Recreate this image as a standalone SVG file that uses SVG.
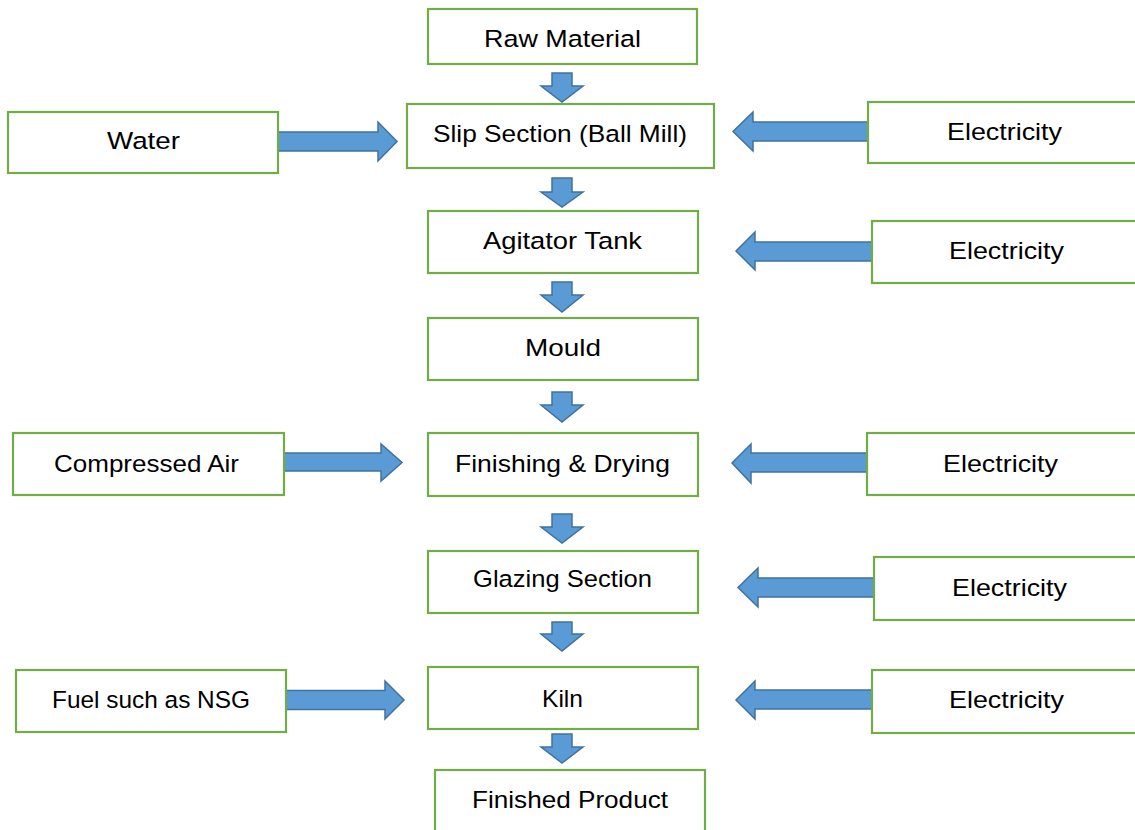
<svg xmlns="http://www.w3.org/2000/svg" width="1135" height="830" viewBox="0 0 1135 830">
<style>
.box{fill:#fff;stroke:#70AD47;stroke-width:2.2}
.lbl{font-family:"Liberation Sans",Arial,sans-serif;font-size:24.5px;fill:#000;text-anchor:middle}
.arr{fill:#5B9BD5;stroke:#41719C;stroke-width:1.5;stroke-linejoin:miter}
</style>
<rect width="1135" height="830" fill="#fff"/>
<g id="connectors">
<path class="arr" d="M552,73 H572 V86 H583 L562,102 L541,86 H552 Z"/>
<path class="arr" d="M552,178 H572 V192 H583 L562,207 L541,192 H552 Z"/>
<path class="arr" d="M552,282 H572 V295 H583 L562,312 L541,295 H552 Z"/>
<path class="arr" d="M552,392 H572 V405 H583 L562,422 L541,405 H552 Z"/>
<path class="arr" d="M552,514 H572 V527 H583 L562,543 L541,527 H552 Z"/>
<path class="arr" d="M552,622 H572 V634 H583 L562,651 L541,634 H552 Z"/>
<path class="arr" d="M552,734 H572 V747 H583 L562,763 L541,747 H552 Z"/>
<path class="arr" d="M278,132 H378 V122 L397,141.5 L378,161 V151 H278 Z"/>
<path class="arr" d="M284,453 H381 V444 L402,462.5 L381,481 V471 H284 Z"/>
<path class="arr" d="M286,690.5 H385 V681 L404,700 L385,719 V709.5 H286 Z"/>
<path class="arr" d="M868,122 H753 V112 L733,131.5 L753,151 V141 H868 Z"/>
<path class="arr" d="M872,242 H755 V232 L736,251 L755,270 V261 H872 Z"/>
<path class="arr" d="M867,453 H751 V444 L732,463 L751,483 V472 H867 Z"/>
<path class="arr" d="M874,578 H758 V568 L738,587.5 L758,607 V597 H874 Z"/>
<path class="arr" d="M872,690 H755 V681 L736,700 L755,719 V709 H872 Z"/>
</g>
<g id="raw"><rect class="box" x="428" y="9" width="269" height="55"/><text class="lbl" x="562.5" y="47" textLength="157" lengthAdjust="spacingAndGlyphs">Raw Material</text></g>
<g id="slip"><rect class="box" x="407" y="104" width="307" height="64"/><text class="lbl" x="560" y="142" textLength="254" lengthAdjust="spacingAndGlyphs">Slip Section (Ball Mill)</text></g>
<g id="water"><rect class="box" x="8" y="112" width="270" height="61"/><text class="lbl" x="143.5" y="149" textLength="73" lengthAdjust="spacingAndGlyphs">Water</text></g>
<g id="elec1"><rect class="box" x="868" y="102" width="275" height="61"/><text class="lbl" x="1004.5" y="140" textLength="115" lengthAdjust="spacingAndGlyphs">Electricity</text></g>
<g id="agitator"><rect class="box" x="428" y="211" width="270" height="62"/><text class="lbl" x="562.5" y="249" textLength="159" lengthAdjust="spacingAndGlyphs">Agitator Tank</text></g>
<g id="elec2"><rect class="box" x="872" y="221" width="271" height="62"/><text class="lbl" x="1006.5" y="259" textLength="115" lengthAdjust="spacingAndGlyphs">Electricity</text></g>
<g id="mould"><rect class="box" x="428" y="318" width="270" height="62"/><text class="lbl" x="563" y="356" textLength="76" lengthAdjust="spacingAndGlyphs">Mould</text></g>
<g id="air"><rect class="box" x="13" y="433" width="271" height="62"/><text class="lbl" x="146.5" y="472" textLength="185" lengthAdjust="spacingAndGlyphs">Compressed Air</text></g>
<g id="finishing"><rect class="box" x="428" y="433" width="270" height="63"/><text class="lbl" x="562.5" y="472" textLength="215" lengthAdjust="spacingAndGlyphs">Finishing &amp; Drying</text></g>
<g id="elec3"><rect class="box" x="867" y="433" width="276" height="62"/><text class="lbl" x="1000.5" y="472" textLength="115" lengthAdjust="spacingAndGlyphs">Electricity</text></g>
<g id="glazing"><rect class="box" x="428" y="551" width="270" height="62"/><text class="lbl" x="562.5" y="587" textLength="179" lengthAdjust="spacingAndGlyphs">Glazing Section</text></g>
<g id="elec4"><rect class="box" x="874" y="557" width="269" height="63"/><text class="lbl" x="1009.5" y="596" textLength="115" lengthAdjust="spacingAndGlyphs">Electricity</text></g>
<g id="fuel"><rect class="box" x="16" y="670" width="270" height="62"/><text class="lbl" x="151" y="708" textLength="198" lengthAdjust="spacingAndGlyphs">Fuel such as NSG</text></g>
<g id="kiln"><rect class="box" x="428" y="667" width="270" height="62"/><text class="lbl" x="562.5" y="707" textLength="41" lengthAdjust="spacingAndGlyphs">Kiln</text></g>
<g id="elec5"><rect class="box" x="872" y="670" width="271" height="63"/><text class="lbl" x="1006.5" y="708" textLength="115" lengthAdjust="spacingAndGlyphs">Electricity</text></g>
<g id="finished"><rect class="box" x="435" y="770" width="270" height="70"/><text class="lbl" x="570" y="808" textLength="196" lengthAdjust="spacingAndGlyphs">Finished Product</text></g>
</svg>
